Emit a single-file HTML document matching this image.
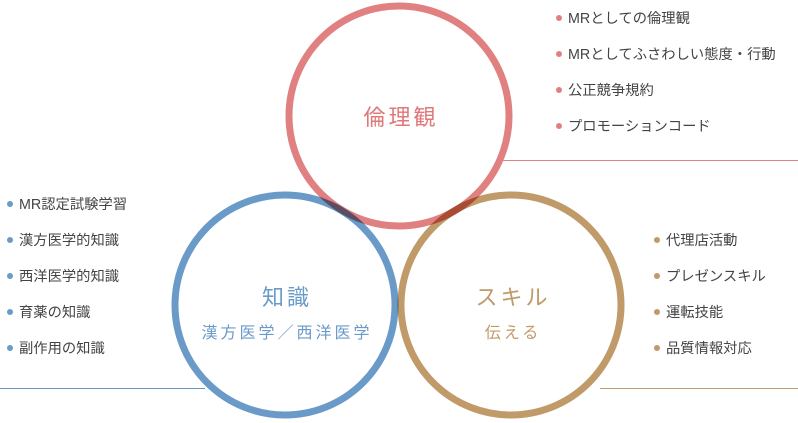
<!DOCTYPE html>
<html><head><meta charset="utf-8"><style>
body{margin:0;width:798px;height:423px;background:#fff;position:relative;overflow:hidden;font-family:"Liberation Sans","Noto Sans CJK JP",sans-serif;color:#444}
svg{position:absolute;left:0;top:0}
.l{position:absolute;font-size:14.3px;line-height:16px;white-space:nowrap}
.l span{display:inline-block;width:6px;height:6px;border-radius:50%;margin-right:6px;vertical-align:2px}
.t{position:absolute;transform:translate(-50%,-50%);white-space:nowrap;letter-spacing:3px}
</style></head><body>
<svg width="798" height="423">
<line x1="500" y1="160.5" x2="798" y2="160.5" stroke="#e08080" stroke-width="1"/>
<line x1="0" y1="388.5" x2="205" y2="388.5" stroke="#6a9ac8" stroke-width="1"/>
<line x1="600" y1="388.5" x2="798" y2="388.5" stroke="#c09a68" stroke-width="1"/>
<g style="isolation:isolate">
<circle cx="285" cy="305" r="110" fill="none" stroke="#6a9ac8" stroke-width="7" style="mix-blend-mode:multiply"/>
<circle cx="511" cy="305" r="110" fill="none" stroke="#c09a68" stroke-width="7" style="mix-blend-mode:multiply"/>
<circle cx="399" cy="116" r="110" fill="none" stroke="#e08080" stroke-width="7" style="mix-blend-mode:multiply"/>
</g>
</svg>
<div class="t" style="left:401px;top:116px;font-size:22px;color:#e07878">倫理観</div>
<div class="t" style="left:287px;top:296px;font-size:22px;color:#6a9ac8">知識</div>
<div class="t" style="left:287px;top:331px;font-size:16px;color:#6a9ac8">漢方医学／西洋医学</div>
<div class="t" style="left:513px;top:296px;font-size:22px;color:#c09a68">スキル</div>
<div class="t" style="left:513px;top:331px;font-size:16px;color:#c09a68">伝える</div>

<div class="l" style="left:556px;top:11px"><span style="background:#e08080"></span>MRとしての倫理観</div>
<div class="l" style="left:556px;top:47px"><span style="background:#e08080"></span>MRとしてふさわしい態度・行動</div>
<div class="l" style="left:556px;top:83px"><span style="background:#e08080"></span>公正競争規約</div>
<div class="l" style="left:556px;top:119px"><span style="background:#e08080"></span>プロモーションコード</div>

<div class="l" style="left:7px;top:197px"><span style="background:#6a9ac8"></span>MR認定試験学習</div>
<div class="l" style="left:7px;top:233px"><span style="background:#6a9ac8"></span>漢方医学的知識</div>
<div class="l" style="left:7px;top:269px"><span style="background:#6a9ac8"></span>西洋医学的知識</div>
<div class="l" style="left:7px;top:305px"><span style="background:#6a9ac8"></span>育薬の知識</div>
<div class="l" style="left:7px;top:341px"><span style="background:#6a9ac8"></span>副作用の知識</div>

<div class="l" style="left:654px;top:233px"><span style="background:#c09a68"></span>代理店活動</div>
<div class="l" style="left:654px;top:269px"><span style="background:#c09a68"></span>プレゼンスキル</div>
<div class="l" style="left:654px;top:305px"><span style="background:#c09a68"></span>運転技能</div>
<div class="l" style="left:654px;top:341px"><span style="background:#c09a68"></span>品質情報対応</div>
</body></html>
